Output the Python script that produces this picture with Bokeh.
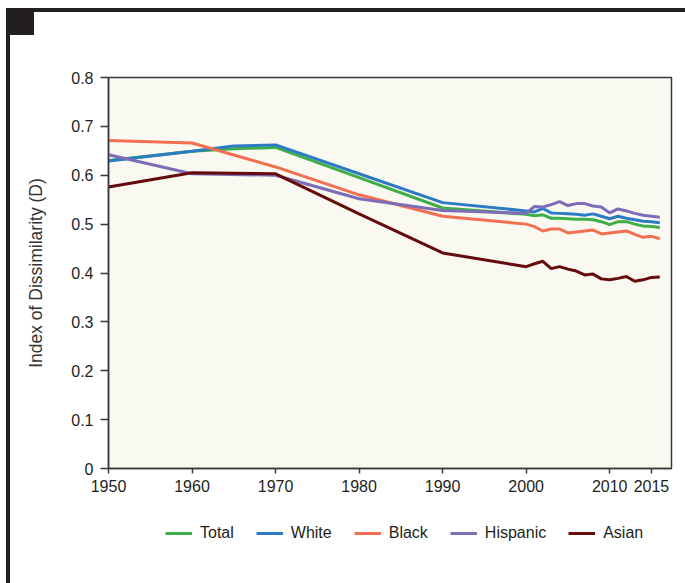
from bokeh.plotting import figure
from bokeh.layouts import column
from bokeh.models import Range1d, FixedTicker, Legend, LegendItem
from bokeh.embed import file_html
from bokeh.resources import INLINE

# index of dissimilarity
total_years = [1950, 1960, 1965, 1970, 1980, 1990, 2000, 2001, 2002, 2003, 2004, 2005, 2006, 2007, 2008,
               2009, 2010, 2011, 2012, 2013, 2014, 2015, 2016]
total_vals = [0.630, 0.649, 0.654, 0.657, 0.595, 0.533, 0.520, 0.517, 0.519, 0.512, 0.512, 0.511, 0.510,
              0.510, 0.509, 0.505, 0.499, 0.505, 0.505, 0.500, 0.496, 0.495, 0.493]

white_years = [1950, 1960, 1965, 1970, 1980, 1990, 2000, 2001, 2002, 2003, 2004, 2005, 2006, 2007, 2008,
               2009, 2010, 2011, 2012, 2013, 2014, 2015, 2016]
white_vals = [0.629, 0.649, 0.660, 0.662, 0.603, 0.544, 0.527, 0.525, 0.532, 0.523, 0.522, 0.521, 0.520,
              0.518, 0.521, 0.516, 0.511, 0.516, 0.512, 0.509, 0.506, 0.505, 0.503]

black_years = [1950, 1960, 1970, 1980, 1990, 2000, 2001, 2002, 2003, 2004, 2005, 2006, 2007, 2008,
               2009, 2010, 2011, 2012, 2013, 2014, 2015, 2016]
black_vals = [0.671, 0.666, 0.617, 0.560, 0.516, 0.500, 0.495, 0.486, 0.490, 0.490, 0.482, 0.484, 0.486,
              0.488, 0.480, 0.482, 0.484, 0.486, 0.479, 0.473, 0.475, 0.470]

hisp_years = [1950, 1960, 1970, 1980, 1990, 2000, 2001, 2002, 2003, 2004, 2005, 2006, 2007, 2008,
              2009, 2010, 2011, 2012, 2013, 2014, 2015, 2016]
hisp_vals = [0.642, 0.603, 0.600, 0.552, 0.528, 0.522, 0.536, 0.535, 0.540, 0.546, 0.538, 0.542, 0.542,
             0.537, 0.535, 0.523, 0.531, 0.527, 0.522, 0.518, 0.516, 0.514]

asian_years = [1950, 1960, 1970, 1980, 1990, 2000, 2001, 2002, 2003, 2004, 2005, 2006, 2007, 2008,
               2009, 2010, 2011, 2012, 2013, 2014, 2015, 2016]
asian_vals = [0.576, 0.605, 0.603, 0.521, 0.441, 0.413, 0.419, 0.424, 0.409, 0.413, 0.408, 0.404, 0.396,
              0.398, 0.388, 0.386, 0.389, 0.393, 0.383, 0.386, 0.391, 0.392]

x_ticks = [1950, 1960, 1970, 1980, 1990, 2000, 2010, 2015]
y_ticks = [0, 0.1, 0.2, 0.3, 0.4, 0.5, 0.6, 0.7, 0.8]
y_tick_labels = ["0", "0.1", "0.2", "0.3", "0.4", "0.5", "0.6", "0.7", "0.8"]

series = [
    ("Total", total_years, total_vals, "#3fae49"),
    ("White", white_years, white_vals, "#2b7bc4"),
    ("Black", black_years, black_vals, "#f26f50"),
    ("Hispanic", hisp_years, hisp_vals, "#7d6cb8"),
    ("Asian", asian_years, asian_vals, "#650b0b"),
]

dark = "#231f20"
font = "Liberation Sans"

p = figure(frame_width=563, frame_height=391, output_backend="svg", toolbar_location=None,
           x_range=Range1d(1950, 2017.4), y_range=Range1d(0, 0.8),
           min_border_left=108, min_border_right=14, min_border_top=77, min_border_bottom=32)

p.border_fill_color = None
p.background_fill_color = "#f9f8f1"
p.outline_line_color = "#3a3a3a"
p.outline_line_width = 1.5
p.grid.visible = False

for name, xs, ys, col in series:
    p.line(xs, ys, line_color=col, line_width=3)

p.xaxis.ticker = FixedTicker(ticks=x_ticks)
p.yaxis.ticker = FixedTicker(ticks=y_ticks)
p.yaxis.major_label_overrides = {t: s for t, s in zip(y_ticks, y_tick_labels)}

for ax in (p.xaxis, p.yaxis):
    ax.axis_line_color = "#3a3a3a"
    ax.axis_line_width = 1.5
    ax.major_tick_line_color = "#3a3a3a"
    ax.major_tick_line_width = 1.5
    ax.major_tick_in = 0
    ax.minor_tick_line_color = None
    ax.major_label_text_font = font
    ax.major_label_text_font_size = "16px"
    ax.major_label_text_color = dark

p.xaxis.major_tick_out = 5
p.xaxis.major_label_standoff = 6
p.yaxis.major_tick_out = 8
p.yaxis.major_label_standoff = 7

p.yaxis.axis_label = "Index of Dissimilarity (D)"
p.yaxis.axis_label_text_font = font
p.yaxis.axis_label_text_font_style = "normal"
p.yaxis.axis_label_text_font_size = "17.5px"
p.yaxis.axis_label_text_color = "#333333"
p.yaxis.axis_label_standoff = 22

# legend strip under the chart (a side-panel legend would not sit where it should);
# its lines hold the same data but fall outside this strip's ranges, so only the keys show
q = figure(frame_width=685, frame_height=83, output_backend="svg", toolbar_location=None,
           x_range=Range1d(0, 1), y_range=Range1d(0, 1), min_border=0)
q.axis.visible = False
q.grid.visible = False
q.outline_line_color = None
q.border_fill_color = None
q.background_fill_color = None

items = []
for name, xs, ys, col in series:
    r = q.line(xs, ys, line_color=col, line_width=3)
    items.append(LegendItem(label=name, renderers=[r]))

legend = Legend(items=items, orientation="horizontal", location=(165, 41))
legend.label_text_font = font
legend.label_text_font_size = "16px"
legend.label_text_color = dark
legend.glyph_width = 27
legend.glyph_height = 18
legend.label_standoff = 8
legend.spacing = 22
legend.border_line_color = None
legend.background_fill_alpha = 0
legend.margin = 0
legend.padding = 0
q.add_layout(legend)

# black frame round the panel, with the small square in the corner
bar = "linear-gradient(%s,%s)" % (dark, dark)
page = column(p, q, spacing=0)
page.styles = {"background": bar + " 6px 8px/28px 27px no-repeat, " + bar + " 6px 8px/100% 4px no-repeat, "
               + bar + " 6px 8px/4px 100% no-repeat, #ffffff"}

open("out.html", "w").write(file_html(page, INLINE))
